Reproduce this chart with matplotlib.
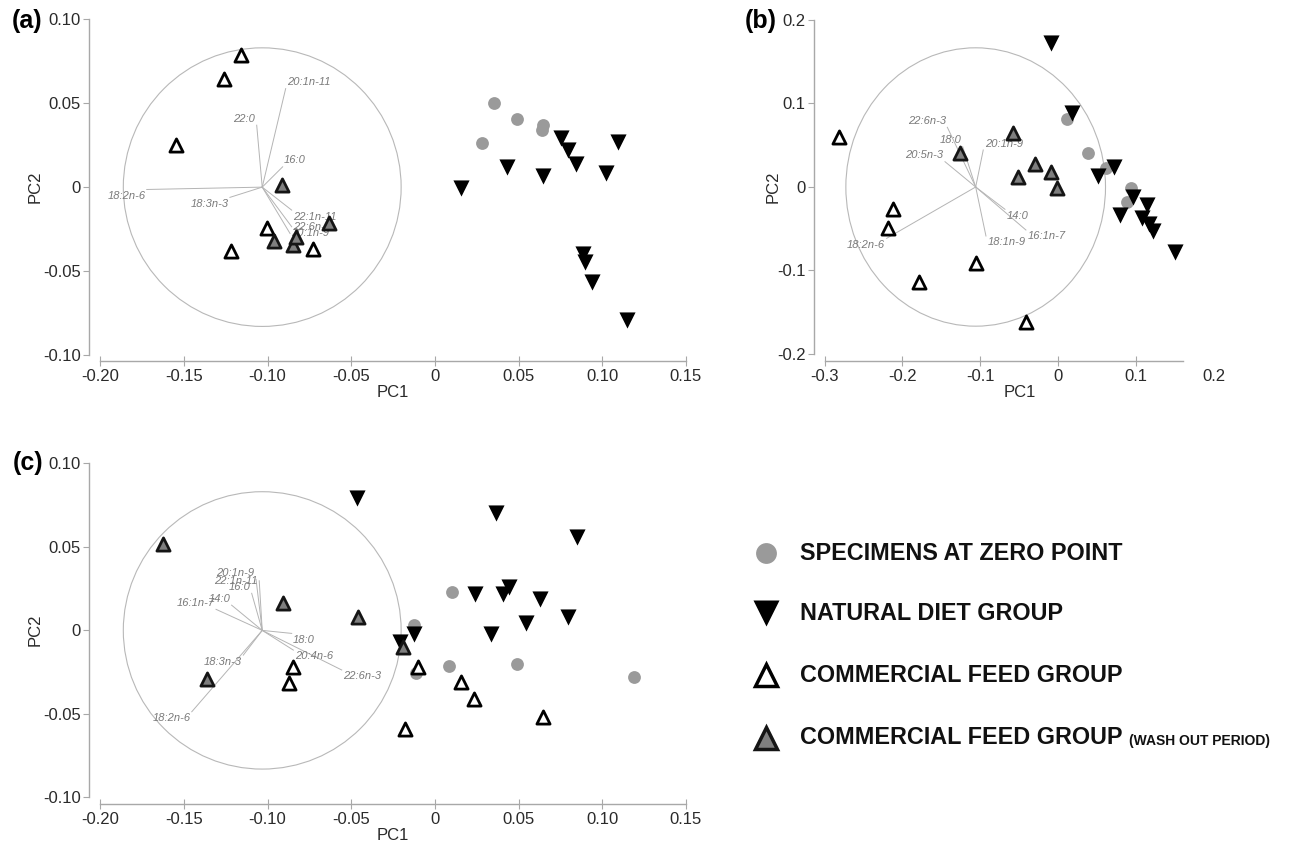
import matplotlib.pyplot as plt
from matplotlib.patches import Ellipse

plt.rcParams['font.family'] = ['Liberation Sans', 'DejaVu Sans']
plt.rcParams['axes.unicode_minus'] = False

# ---------------- panel (a) ----------------
a_zero_x = [0.0354, 0.0492, 0.0643, 0.0637, 0.0279]
a_zero_y = [0.0504, 0.0405, 0.0373, 0.0343, 0.0264]
a_nat_x = [0.0753, 0.0797, 0.0841, 0.1095, 0.1020, 0.0432, 0.0647, 0.0153,
           0.0882, 0.0896, 0.0938, 0.1145]
a_nat_y = [0.0293, 0.0220, 0.0135, 0.0270, 0.0087, 0.0117, 0.0065, -0.0008,
           -0.0399, -0.0448, -0.0564, -0.0792]
a_feed_x = [-0.1161, -0.1260, -0.1549, -0.1220, -0.1005, -0.0727]
a_feed_y = [0.0786, 0.0643, 0.0254, -0.0379, -0.0242, -0.0371]
a_wash_x = [-0.0916, -0.0633, -0.0962, -0.0850, -0.0830]
a_wash_y = [0.0012, -0.0216, -0.0320, -0.0345, -0.0296]
a_load_names = ['18:2n-6', '18:3n-3', '22:0', '20:1n-11', '16:0',
                '22:1n-11', '22:6n-3', '20:1n-9']
a_load_x = [-0.1722, -0.1225, -0.1065, -0.0892, -0.0910, -0.0856, -0.0856, -0.0866]
a_load_y = [-0.0014, -0.0061, 0.0369, 0.0587, 0.0121, -0.0137, -0.0236, -0.0276]
a_load_anchor = ['rt', 'rt', 'rb', 'lb', 'lb', 'lt', 'lc', 'lc']
a_circle = (-0.1032, 0.0, 0.083)
a_xticks = [-0.20, -0.15, -0.10, -0.05, 0, 0.05, 0.10, 0.15]
a_xticklabels = ['-0.20', '-0.15', '-0.10', '-0.05', '0', '0.05', '0.10', '0.15']
a_yticks = [-0.10, -0.05, 0, 0.05, 0.10]
a_yticklabels = ['-0.10', '-0.05', '0', '0.05', '0.10']

# ---------------- panel (b) ----------------
b_zero_x = [0.0108, 0.0385, 0.0608, 0.0933, 0.0878]
b_zero_y = [0.0814, 0.0403, 0.0224, -0.0016, -0.0176]
b_nat_x = [-0.0098, 0.0180, 0.0715, 0.0513, 0.0963, 0.1143, 0.0792, 0.1070,
           0.1168, 0.1220, 0.1498]
b_nat_y = [0.1728, 0.0883, 0.0236, 0.0132, -0.0123, -0.0216, -0.0335, -0.0375,
           -0.0443, -0.0523, -0.0775]
b_feed_x = [-0.2810, -0.2118, -0.2182, -0.1784, -0.1056, -0.0415]
b_feed_y = [0.0602, -0.0267, -0.0487, -0.1134, -0.0914, -0.1613]
b_wash_x = [-0.0585, -0.1262, -0.0299, -0.0521, -0.0098, -0.0021]
b_wash_y = [0.0643, 0.0403, 0.0275, 0.0116, 0.0183, -0.0016]
b_load_names = ['22:6n-3', '18:0', '20:5n-3', '20:1n-9', '14:0', '16:1n-7',
                '18:1n-9', '18:2n-6']
b_load_x = [-0.1424, -0.1227, -0.1454, -0.0963, -0.0684, -0.0415, -0.0928, -0.2203]
b_load_y = [0.0715, 0.0483, 0.0303, 0.0443, -0.0267, -0.0515, -0.0587, -0.0615]
b_load_anchor = ['rb', 'rb', 'rb', 'lb', 'lt', 'lt', 'lt', 'rt']
b_circle = (-0.106, 0.0, 0.1667)
b_xticks = [-0.3, -0.2, -0.1, 0, 0.1, 0.2]
b_xticklabels = ['-0.3', '-0.2', '-0.1', '0', '0.1', '0.2']
b_yticks = [-0.2, -0.1, 0, 0.1, 0.2]
b_yticklabels = ['-0.2', '-0.1', '0', '0.1', '0.2']

# ---------------- panel (c) ----------------
c_zero_x = [0.0103, -0.0125, 0.0084, 0.0488, -0.0115, 0.1191]
c_zero_y = [0.0227, 0.0032, -0.0214, -0.0203, -0.0254, -0.0281]
c_nat_x = [0.0362, 0.0846, -0.0464, 0.0239, 0.0408, 0.0444, 0.0627, 0.0793,
           0.0542, 0.0335, -0.0124, -0.0209]
c_nat_y = [0.0700, 0.0556, 0.0795, 0.0217, 0.0217, 0.0257, 0.0185, 0.0081,
           0.0042, -0.0022, -0.0022, -0.0068]
c_feed_x = [-0.0846, -0.0870, -0.0179, -0.0100, 0.0153, 0.0235, 0.0647]
c_feed_y = [-0.0218, -0.0313, -0.0592, -0.0218, -0.0311, -0.0411, -0.0517]
c_wash_x = [-0.1623, -0.0906, -0.0458, -0.1360, -0.0189]
c_wash_y = [0.0516, 0.0161, 0.0081, -0.0291, -0.0102]
c_load_names = ['20:1n-9', '22:1n-11', '16:0', '14:0', '16:1n-7', '18:0',
                '20:4n-6', '22:6n-3', '18:3n-3', '18:2n-6']
c_load_x = [-0.1069, -0.1050, -0.1095, -0.1215, -0.1308, -0.0856, -0.0846,
            -0.0557, -0.1145, -0.1453]
c_load_y = [0.0305, 0.0297, 0.0222, 0.0151, 0.0126, -0.0018, -0.0118,
            -0.0237, -0.0148, -0.0487]
c_load_anchor = ['rb', 'rc', 'rb', 'rb', 'rb', 'lt', 'lt', 'lt', 'rt', 'rt']
c_circle = (-0.1032, 0.0, 0.083)

legend_labels = ['SPECIMENS AT ZERO POINT', 'NATURAL DIET GROUP',
                 'COMMERCIAL FEED GROUP', 'COMMERCIAL FEED GROUP']
legend_note = '(WASH OUT PERIOD)'

AX_GRAY = '#a8a8a8'
TXT = '#2a2a2a'
ZERO_C = '#9a9a9a'
WASH_C = '#7f7f7f'


def draw_panel(ax, zero, nat, feed, wash, loads, circ, xlim, ylim,
               xticks, xticklabels, yticks, yticklabels, xbounds):
    cx, cy, r = circ
    ax.add_patch(Ellipse((cx, cy), 2 * r, 2 * r, fill=False, ec='#b8b8b8',
                         lw=0.8, zorder=1))
    names, lx, ly, anchors = loads
    for name, x, y, anc in zip(names, lx, ly, anchors):
        ax.plot([cx, x], [cy, y], color='#b4b4b4', lw=0.7, zorder=1)
        ha = 'left' if anc[0] == 'l' else 'right'
        va = {'t': 'top', 'b': 'bottom', 'c': 'center'}[anc[1]]
        dx = 1 if ha == 'left' else -1
        dy = {'top': -1, 'bottom': 1, 'center': 0}[va]
        ax.annotate(name, (x, y), xytext=(dx, dy), textcoords='offset points',
                    ha=ha, va=va, fontsize=8, style='italic', color='#7a7a7a',
                    zorder=2)

    ax.scatter(zero[0], zero[1], s=85, c=ZERO_C, lw=0, zorder=3, clip_on=False)
    ax.scatter(nat[0], nat[1], marker='v', s=135, c='black', lw=0, zorder=4,
               clip_on=False)
    ax.scatter(feed[0], feed[1], marker='^', s=90, facecolor='white',
               edgecolor='black', lw=2, zorder=5, clip_on=False)
    ax.scatter(wash[0], wash[1], marker='^', s=90, facecolor=WASH_C,
               edgecolor='#151515', lw=2, zorder=6, clip_on=False)

    ax.set_xlim(*xlim)
    ax.set_ylim(*ylim)
    ax.set_xticks(xticks, xticklabels)
    ax.set_yticks(yticks, yticklabels)
    ax.patch.set_visible(False)
    for s in ['top', 'right']:
        ax.spines[s].set_visible(False)
    for s in ['left', 'bottom']:
        ax.spines[s].set_color(AX_GRAY)
        ax.spines[s].set_linewidth(1.0)
    ax.spines['left'].set_bounds(yticks[0], yticks[-1])
    ax.spines['bottom'].set_bounds(*xbounds)
    ax.tick_params(axis='y', direction='out', length=4.5, width=0.8,
                   color=AX_GRAY, labelsize=12, labelcolor=TXT, pad=1.5)
    ax.tick_params(axis='x', direction='inout', length=7, width=0.8,
                   color=AX_GRAY, labelsize=12, labelcolor=TXT, pad=2.5)
    ax.set_xlabel('PC1', fontsize=12, color=TXT)
    ax.set_ylabel('PC2', fontsize=12, color=TXT)


fig = plt.figure(figsize=(13.04, 8.43), dpi=100)
W, H = 1304, 843


def axes_px(left, right, top, bottom):
    return fig.add_axes([left / W, 1 - bottom / H, (right - left) / W,
                         (bottom - top) / H])


ax_a = axes_px(89, 686, 19.3, 361)
draw_panel(ax_a, (a_zero_x, a_zero_y), (a_nat_x, a_nat_y), (a_feed_x, a_feed_y),
           (a_wash_x, a_wash_y), (a_load_names, a_load_x, a_load_y, a_load_anchor),
           a_circle, (-0.2067, 0.15), (-0.1036, 0.10),
           a_xticks, a_xticklabels, a_yticks, a_yticklabels, (-0.20, 0.15))
ax_a.xaxis.set_label_coords(0.509, -31 / 341.7)
ax_a.yaxis.set_label_coords(-54 / 597, 0.509)

ax_b = axes_px(814, 1214, 20, 361)
draw_panel(ax_b, (b_zero_x, b_zero_y), (b_nat_x, b_nat_y), (b_feed_x, b_feed_y),
           (b_wash_x, b_wash_y), (b_load_names, b_load_x, b_load_y, b_load_anchor),
           b_circle, (-0.3136, 0.2), (-0.2084, 0.2),
           b_xticks, b_xticklabels, b_yticks, b_yticklabels, (-0.3, 0.16))
ax_b.xaxis.get_major_ticks()[-1].tick1line.set_visible(False)
ax_b.xaxis.set_label_coords(0.515, -31 / 341)
ax_b.yaxis.set_label_coords(-41 / 400, 0.51)

ax_c = axes_px(89, 686, 463.3, 804)
draw_panel(ax_c, (c_zero_x, c_zero_y), (c_nat_x, c_nat_y), (c_feed_x, c_feed_y),
           (c_wash_x, c_wash_y), (c_load_names, c_load_x, c_load_y, c_load_anchor),
           c_circle, (-0.2067, 0.15), (-0.1039, 0.10),
           a_xticks, a_xticklabels, a_yticks, a_yticklabels, (-0.20, 0.15))
ax_c.xaxis.set_label_coords(0.509, -32 / 340.7)
ax_c.yaxis.set_label_coords(-54 / 597, 0.51)

for ax in (ax_a, ax_b, ax_c):
    ax.xaxis.label.set_va('center')
    ax.yaxis.label.set_va('center')

fig.text(12 / W, 1 - 21 / H, '(a)', fontsize=18, weight='bold', va='center')
fig.text(745 / W, 1 - 21 / H, '(b)', fontsize=18, weight='bold', va='center')
fig.text(13 / W, 1 - 463 / H, '(c)', fontsize=18, weight='bold', va='center')

# legend drawn by hand, in pixel space
lax = fig.add_axes([0, 0, 1, 1])
lax.set_xlim(0, W)
lax.set_ylim(H, 0)
lax.axis('off')
lax.patch.set_alpha(0)
rows = [553, 613, 675, 738]
mx, tx = 766, 800
lax.plot(mx, rows[0], 'o', ms=15, color=ZERO_C, mec='none')
lax.plot(mx, rows[1], 'v', ms=19, color='black', mec='none')
lax.plot(mx, rows[2], '^', ms=16, mfc='white', mec='black', mew=2.5)
lax.plot(mx, rows[3], '^', ms=16, mfc=WASH_C, mec='#151515', mew=2.5)
last = None
for y, lab in zip(rows, legend_labels):
    last = lax.text(tx, y, lab, fontsize=16.8, weight='bold', va='center',
                    ha='left', color='#111111')
lax.annotate(legend_note, xy=(1, 0), xycoords=last, xytext=(5, 1),
             textcoords='offset points', ha='left', va='bottom',
             fontsize=10, weight='bold', color='#111111')

fig.savefig('out.png', dpi=100)
